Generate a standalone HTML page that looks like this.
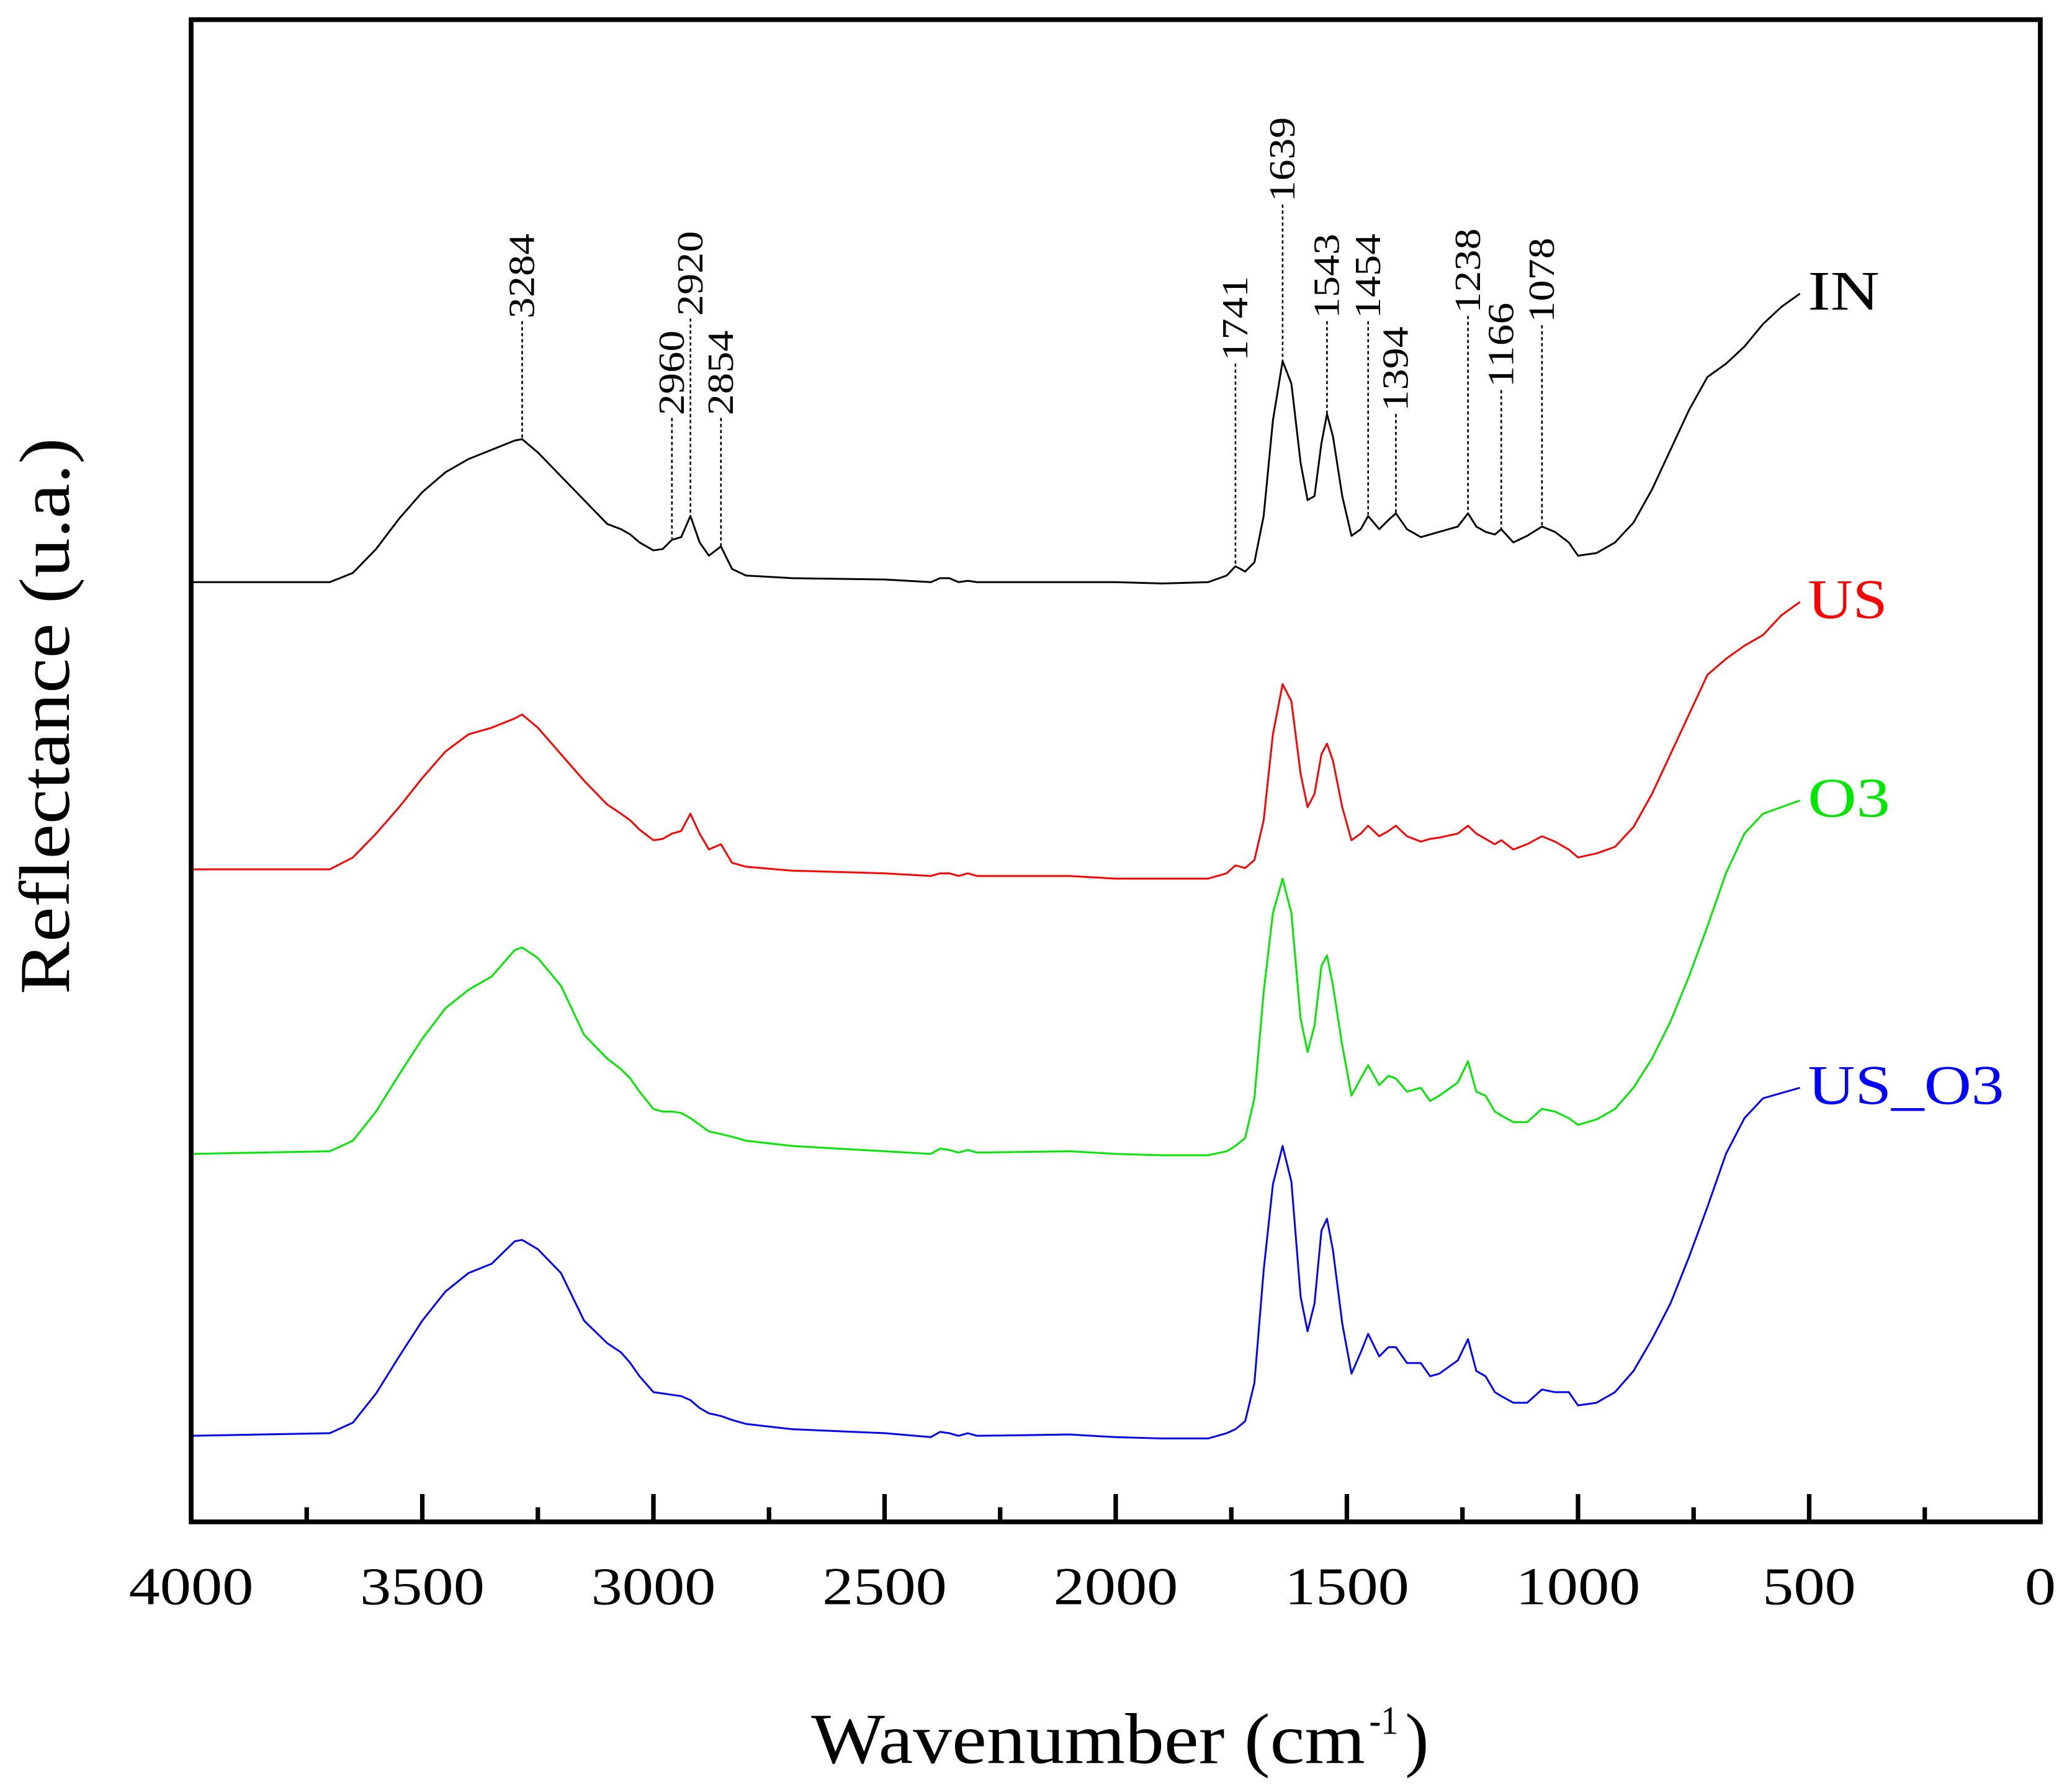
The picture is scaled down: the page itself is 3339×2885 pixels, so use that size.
<!DOCTYPE html>
<html><head><meta charset="utf-8"><style>
html,body{margin:0;padding:0;background:#fff;}
svg{display:block;}
text{font-family:"Liberation Serif",serif;}
</style></head><body>
<svg id="chart" xmlns="http://www.w3.org/2000/svg" width="3339" height="2885" viewBox="0 0 1563.2 1350">
<rect x="0" y="0" width="1563.2" height="1350" fill="#fff"/>
<g id="series"></g>
<g id="annots"></g>
<g id="axes"></g>
<text x="612" y="1330" font-size="54" textLength="418" lengthAdjust="spacingAndGlyphs">Wavenumber (cm</text>
<text x="1033" y="1308" font-size="30" textLength="22" lengthAdjust="spacingAndGlyphs">-1</text>
<text x="1060" y="1330" font-size="54">)</text>
<text transform="translate(52,540) rotate(-90)" font-size="54" text-anchor="middle" textLength="420" lengthAdjust="spacingAndGlyphs">Reflectance (u.a.)</text>
</svg>
<script>
// wavenumber grid (cm-1)
const wavenumbers=[4000,3700,3650,3600,3550,3500,3450,3400,3350,3300,3284,3250,3200,3150,3100,3070,3050,3030,3000,2980,2960,2940,2920,2900,2880,2854,2830,2800,2700,2500,2400,2380,2360,2340,2320,2300,2100,2000,1900,1800,1760,1741,1720,1700,1680,1660,1639,1620,1600,1585,1570,1555,1543,1530,1510,1490,1470,1454,1430,1410,1394,1370,1340,1320,1300,1260,1238,1220,1200,1180,1166,1140,1110,1078,1050,1020,1000,960,920,880,840,800,760,720,680,640,600,560,520];
// series values (offset units; larger = lower on plot)
const seriesIN=[440,440,433,415,392,372,357,347,340,333,332,342,360,378,396,400,404,410,416,415,408,406,390,410,420,413,430,435,437,438,440,437,437,440,439,440,440,440,441,440,435,428,432,425,390,318,273,290,350,378,375,335,313,330,375,405,400,390,400,393,388,400,406,404,402,398,388,398,402,404,400,410,405,398,402,410,420,418,410,395,370,340,310,285,275,262,245,232,222];
const seriesUS=[657,657,648,630,610,588,568,555,550,543,540,550,570,590,608,615,620,627,635,634,630,628,615,630,642,638,652,655,658,660,662,660,660,662,660,662,662,664,664,664,660,654,656,650,620,555,517,530,585,610,600,570,562,575,610,635,630,624,632,628,624,632,636,634,633,630,624,630,634,638,635,642,638,632,636,642,648,645,640,625,600,570,540,510,498,488,480,465,455];
const seriesO3=[872,870,862,840,812,785,762,748,738,718,716,724,745,782,800,808,815,825,838,840,840,841,845,850,855,857,859,862,866,870,872,868,869,871,869,871,870,872,873,873,870,866,860,830,750,690,664,690,770,795,775,730,722,745,790,828,815,805,820,813,815,825,822,832,828,818,802,825,828,840,843,848,848,838,840,845,850,846,838,822,800,772,738,700,660,630,615,610,605];
const seriesUSO3=[1085,1083,1075,1053,1025,998,976,962,955,938,937,944,962,998,1015,1022,1030,1040,1052,1053,1054,1055,1058,1064,1068,1070,1073,1076,1080,1083,1086,1082,1083,1085,1083,1085,1084,1086,1087,1087,1083,1080,1074,1045,960,895,866,893,980,1006,985,930,921,945,1000,1038,1022,1008,1025,1018,1018,1030,1030,1040,1038,1028,1012,1036,1040,1052,1055,1060,1060,1050,1052,1052,1062,1060,1052,1036,1012,985,950,912,872,845,830,826,822];
// peak annotations
const peakLabels=[3284,2960,2920,2854,1741,1639,1543,1454,1394,1238,1166,1078];
const peakTops=[240,313,238,313,272,152,240,240,310,236,292,243];
const peakBases=[330,406,390,412,428,272,312,388,388,388,400,398];
const xTicks=[4000,3500,3000,2500,2000,1500,1000,500,0];
const seriesNames=["IN","US","O3","US_O3"];
const seriesColors=["#000","#ff0000","#00e600","#0000ff"];
const nameLens=[54,60,62,148];

const L=144.2,R=1539.3,T=14.5,B=1148;
function X(w){return L+(4000-w)*(R-L)/4000;}
function Y(v){return T+(v-15)*(B-T)/(1150-15);}
const NS="http://www.w3.org/2000/svg";
function mk(tag,attrs,parent){const e=document.createElementNS(NS,tag);for(const k in attrs)e.setAttribute(k,attrs[k]);parent.appendChild(e);return e;}

const sg=document.getElementById('series');
const all=[seriesIN,seriesUS,seriesO3,seriesUSO3];
all.forEach((arr,i)=>{
  let d='';
  arr.forEach((v,j)=>{d+=(j?'L':'M')+X(wavenumbers[j]).toFixed(2)+' '+Y(v).toFixed(2);});
  const p=mk('path',{d:d,fill:'none',stroke:seriesColors[i],'stroke-width':1.4,'stroke-linejoin':'round'},sg);
  
  
  const last=arr[arr.length-1];
  const t=mk('text',{x:X(wavenumbers[wavenumbers.length-1])+6,y:Y(last)+12,'font-size':42,fill:seriesColors[i],textLength:nameLens[i],lengthAdjust:'spacingAndGlyphs'},sg);
  t.textContent=seriesNames[i];
  
  
});

const ag=document.getElementById('annots');
peakLabels.forEach((w,i)=>{
  const x=X(w);
  const ln=mk('line',{x1:x,x2:x,y1:peakTops[i]+2,y2:peakBases[i],stroke:'#000','stroke-width':1.2,'stroke-dasharray':'2.5 2'},ag);
  
  
  const t=mk('text',{transform:'translate('+(x+9)+','+peakTops[i]+') rotate(-90)','font-size':28,textLength:64,lengthAdjust:'spacingAndGlyphs'},ag);
  t.textContent=w;
  
  
});

const ax=document.getElementById('axes');
const fr=mk('rect',{x:L,y:T,width:R-L,height:B-T,fill:'none',stroke:'#000','stroke-width':3.6},ax);


for(let w=4000;w>=0;w-=250){
  const major=w%500===0;
  const tk=mk('line',{x1:X(w),x2:X(w),y1:B,y2:B-(major?21:11),stroke:'#000','stroke-width':3.4},ax);
  
  
}
xTicks.forEach(w=>{
  const s=String(w);
  const t=mk('text',{x:X(w),y:1210,'font-size':40,'text-anchor':'middle',textLength:s.length*23.5,lengthAdjust:'spacingAndGlyphs'},ax);
  t.textContent=s;
  
  
});
</script>
</body></html>
